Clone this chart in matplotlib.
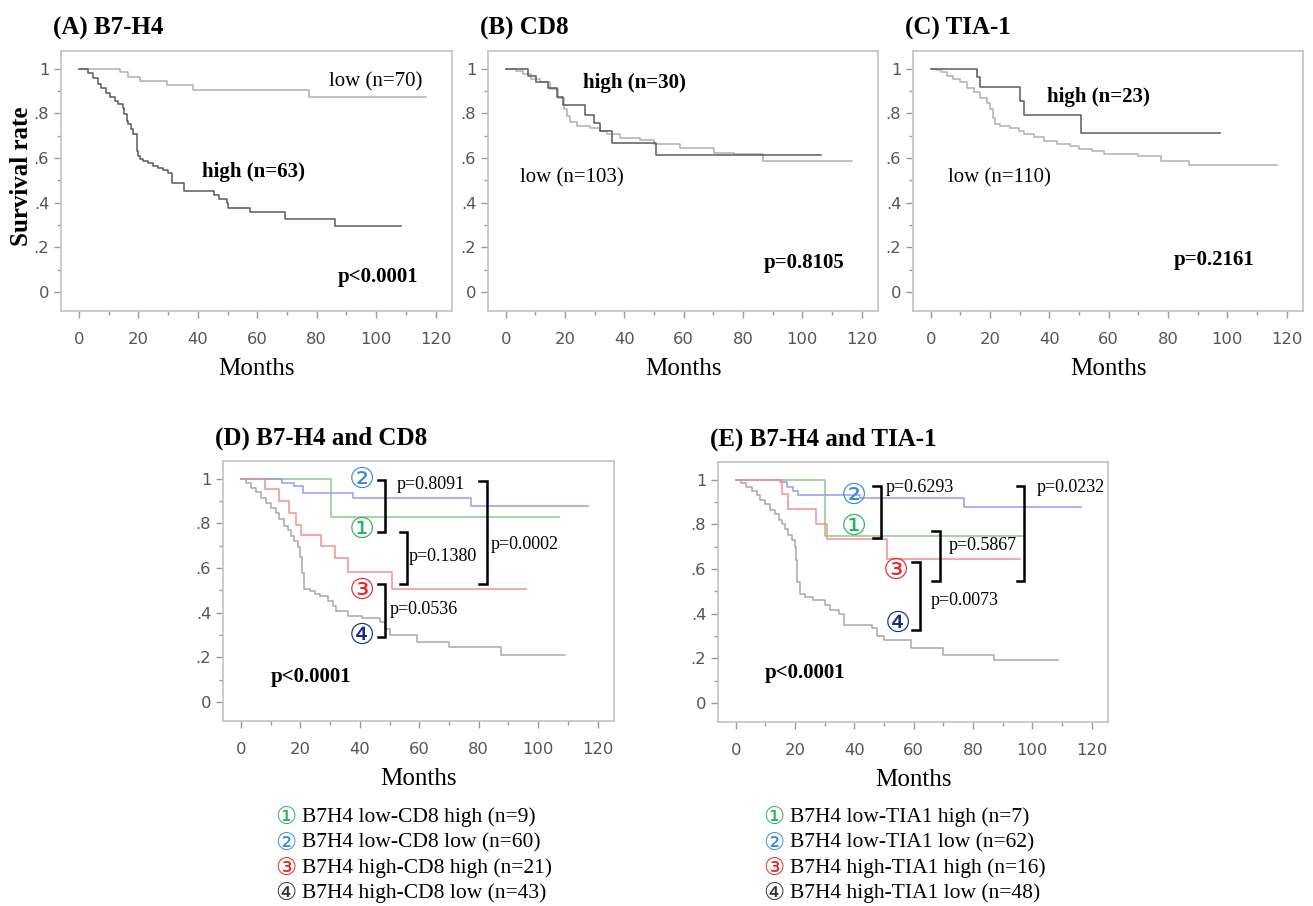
import matplotlib
matplotlib.use('Agg')
import matplotlib.pyplot as plt

SERIF = 'Liberation Serif'

# ---- survival curves (months, survival) ----
a_low_t = [0, 13.8, 16.6, 20.6, 29.6, 38.3, 77.3, 116.6]
a_low_s = [1.0, 0.985, 0.965, 0.945, 0.928, 0.905, 0.872, 0.872]
a_high_t = [0, 3.1, 4.8, 6.5, 7.6, 9.3, 10.4, 12.1, 13.3, 14.7, 15.2, 16.1, 16.6, 17.4,
            18.3, 19.4, 19.7, 20.0, 20.6, 21.7, 23.4, 25.1, 26.7, 28.4, 30.1, 31.2, 35.2,
            45.3, 47.0, 49.8, 50.3, 57.6, 69.4, 86.3, 108.2]
a_high_s = [1.0, 0.982, 0.96, 0.934, 0.913, 0.894, 0.875, 0.857, 0.842, 0.824, 0.797, 0.767,
            0.752, 0.73, 0.707, 0.692, 0.633, 0.61, 0.597, 0.585, 0.578, 0.563, 0.555, 0.548,
            0.533, 0.49, 0.452, 0.437, 0.418, 0.4, 0.376, 0.358, 0.328, 0.297, 0.297]

b_high_t = [0, 7.5, 10.3, 14.3, 17.1, 19.3, 26.7, 29.6, 31.8, 35.7, 50.5, 106.4]
b_high_s = [1.0, 0.967, 0.943, 0.913, 0.876, 0.84, 0.794, 0.757, 0.72, 0.667, 0.615, 0.615]
b_low_t = [0, 3.5, 5.8, 8.6, 11.4, 14.8, 17.6, 19.6, 20.5, 21.6, 23.9, 28.4, 31.8, 34.1,
           38.6, 45.4, 49.9, 58.9, 70.2, 77.0, 86.7, 116.6]
b_low_s = [1.0, 0.99, 0.975, 0.955, 0.94, 0.91, 0.87, 0.82, 0.79, 0.76, 0.745, 0.735, 0.72,
           0.71, 0.69, 0.68, 0.665, 0.645, 0.625, 0.62, 0.585, 0.585]

c_high_t = [0, 15.5, 16.6, 30.2, 31.3, 50.5, 97.4]
c_high_s = [1.0, 0.963, 0.918, 0.858, 0.794, 0.712, 0.712]
c_low_t = [0, 1.9, 3.6, 5.3, 7.6, 9.8, 12.1, 14.4, 16.6, 18.9, 20.0, 20.9, 21.7, 23.4, 26.8,
           29.6, 31.3, 34.7, 38.1, 42.6, 47.1, 49.9, 54.5, 58.4, 69.7, 77.6, 87.2, 116.6]
c_low_s = [1.0, 0.995, 0.985, 0.97, 0.955, 0.94, 0.915, 0.895, 0.87, 0.845, 0.82, 0.78, 0.755,
           0.745, 0.735, 0.72, 0.71, 0.695, 0.675, 0.665, 0.655, 0.64, 0.63, 0.62, 0.61, 0.585,
           0.57, 0.57]

d1_t = [0, 30.4, 107.0]
d1_s = [1.0, 0.829, 0.829]
d2_t = [0, 14.0, 18.0, 20.8, 37.8, 77.4, 116.7]
d2_s = [1.0, 0.983, 0.967, 0.936, 0.914, 0.88, 0.88]
d3_t = [0, 8.1, 12.9, 16.3, 18.6, 20.2, 27.0, 31.6, 36.1, 51.0, 96.0]
d3_s = [1.0, 0.954, 0.903, 0.847, 0.795, 0.75, 0.698, 0.646, 0.582, 0.508, 0.508]
d4_t = [0, 1.6, 3.3, 5.0, 6.7, 8.4, 10.1, 11.8, 12.9, 14.6, 15.7, 16.9, 18.0, 19.1, 19.9,
        20.6, 21.4, 23.1, 24.8, 26.5, 29.3, 31.0, 32.1, 36.1, 40.6, 46.8, 48.5, 50.2, 59.3,
        70.0, 87.6, 109.0]
d4_s = [1.0, 0.98, 0.96, 0.94, 0.915, 0.89, 0.87, 0.845, 0.82, 0.79, 0.77, 0.745, 0.72, 0.695,
        0.65, 0.58, 0.505, 0.497, 0.485, 0.475, 0.453, 0.43, 0.41, 0.386, 0.378, 0.357, 0.327,
        0.30, 0.267, 0.245, 0.212, 0.212]

e1_t = [0, 30.2, 96.8]
e1_s = [1.0, 0.749, 0.749]
e2_t = [0, 14.9, 17.2, 19.4, 21.1, 42.0, 77.1, 116.4]
e2_s = [1.0, 0.99, 0.967, 0.948, 0.933, 0.918, 0.878, 0.878]
e3_t = [0, 15.5, 17.7, 27.1, 30.7, 51.1, 95.7]
e3_s = [1.0, 0.935, 0.868, 0.8, 0.735, 0.644, 0.644]
e4_t = [0, 1.9, 3.6, 5.3, 7.0, 8.1, 9.8, 11.5, 13.2, 14.4, 15.5, 16.6, 17.7, 18.9, 20.0, 20.3,
        20.6, 21.7, 23.4, 26.2, 30.2, 31.9, 34.7, 36.4, 46.0, 47.7, 49.9, 59.0, 69.7, 87.2, 108.7]
e4_s = [1.0, 0.985, 0.97, 0.95, 0.93, 0.91, 0.89, 0.865, 0.845, 0.82, 0.8, 0.78, 0.755, 0.73,
        0.7, 0.64, 0.543, 0.49, 0.476, 0.461, 0.439, 0.417, 0.397, 0.35, 0.335, 0.302, 0.283,
        0.246, 0.216, 0.193, 0.193]

circ = ['\u2460', '\u2461', '\u2462', '\u2463']
grp_colors = ['#8cc88c', '#9a9af0', '#f49090', '#a8a8a8']
num_colors = ['#2fb060', '#3a8ad8', '#e82828', '#1c2e80']
leg_num_colors = ['#2fb060', '#3a8ad8', '#e82828', '#333333']
legend_d = ['B7H4 low-CD8 high (n=9)', 'B7H4 low-CD8 low (n=60)',
            'B7H4 high-CD8 high (n=21)', 'B7H4 high-CD8 low (n=43)']
legend_e = ['B7H4 low-TIA1 high (n=7)', 'B7H4 low-TIA1 low (n=62)',
            'B7H4 high-TIA1 high (n=16)', 'B7H4 high-TIA1 low (n=48)']

fig = plt.figure(figsize=(13.13, 9.06), dpi=100)


def setup(ax, title):
    ax.set_xlim(-6, 125.5)
    ax.set_ylim(-0.085, 1.08)
    ax.set_xticks(range(0, 121, 20))
    ax.set_xticks(range(10, 121, 20), minor=True)
    ax.set_yticks([0, 0.2, 0.4, 0.6, 0.8, 1.0])
    ax.set_yticklabels(['0', '.2', '.4', '.6', '.8', '1'])
    ax.set_yticks([0.1, 0.3, 0.5, 0.7, 0.9], minor=True)
    ax.tick_params(which='both', colors='#9a9a9a', labelcolor='#555555', labelsize=11.8, width=1)
    ax.tick_params(which='major', length=5)
    ax.tick_params(which='minor', length=3)
    ax.tick_params(axis='x', pad=10)
    for sp in ax.spines.values():
        sp.set_color('#c4c4c4')
        sp.set_linewidth(1.2)
    ax.set_xlabel('Months', family=SERIF, fontsize=18, labelpad=8)
    ax.set_title(title, family=SERIF, fontweight='bold', fontsize=18, loc='left',
                 x=-0.02, pad=12)


def bracket(ax, x, y0, y1, dx=2.5):
    ax.plot([x - dx, x, x, x - dx], [y1, y1, y0, y0], color='black', lw=1.8,
            solid_joinstyle='miter', clip_on=False)


W, H = 1313, 906
ax_a = fig.add_axes([61 / W, 1 - 311 / H, 391 / W, 260 / H])
ax_b = fig.add_axes([488 / W, 1 - 311 / H, 390 / W, 260 / H])
ax_c = fig.add_axes([913 / W, 1 - 311 / H, 390 / W, 260 / H])
ax_d = fig.add_axes([223 / W, 1 - 721 / H, 391 / W, 260 / H])
ax_e = fig.add_axes([718 / W, 1 - 722 / H, 390 / W, 260 / H])

# (A)
setup(ax_a, '(A) B7-H4')
ax_a.step(a_low_t, a_low_s, where='post', color='#b0b0b0', lw=1.1)
ax_a.step(a_high_t, a_high_s, where='post', color='#5a5a5a', lw=1.1)
ax_a.text(84, 0.94, 'low (n=70)', family=SERIF, fontsize=15, va='center')
ax_a.text(41.5, 0.54, 'high (n=63)', family=SERIF, fontsize=15, fontweight='bold', va='center')
ax_a.text(87, 0.067, 'p<0.0001', family=SERIF, fontsize=15, fontweight='bold', va='center')
fig.text(22 / W, 1 - 176 / H, 'Survival rate', family=SERIF, fontsize=18, fontweight='bold',
         rotation=90, ha='center', va='center')

# (B)
setup(ax_b, '(B) CD8')
ax_b.step(b_low_t, b_low_s, where='post', color='#b0b0b0', lw=1.1)
ax_b.step(b_high_t, b_high_s, where='post', color='#5a5a5a', lw=1.1)
ax_b.text(26, 0.937, 'high (n=30)', family=SERIF, fontsize=15, fontweight='bold', va='center')
ax_b.text(4.7, 0.51, 'low (n=103)', family=SERIF, fontsize=15, va='center')
ax_b.text(86.8, 0.13, 'p=0.8105', family=SERIF, fontsize=15, fontweight='bold', va='center')

# (C)
setup(ax_c, '(C) TIA-1')
ax_c.step(c_low_t, c_low_s, where='post', color='#b0b0b0', lw=1.1)
ax_c.step(c_high_t, c_high_s, where='post', color='#5a5a5a', lw=1.1)
ax_c.text(39.3, 0.875, 'high (n=23)', family=SERIF, fontsize=15, fontweight='bold', va='center')
ax_c.text(5.8, 0.51, 'low (n=110)', family=SERIF, fontsize=15, va='center')
ax_c.text(82, 0.143, 'p=0.2161', family=SERIF, fontsize=15, fontweight='bold', va='center')

# (D)
setup(ax_d, '(D) B7-H4 and CD8')
for t, s, c in zip([d1_t, d2_t, d3_t, d4_t], [d1_s, d2_s, d3_s, d4_s], grp_colors):
    ax_d.step(t, s, where='post', color=c, lw=1.1)
for i, (x, y) in enumerate([(40.7, 0.772), (40.7, 0.996), (40.7, 0.496), (40.7, 0.295)]):
    ax_d.text(x, y, circ[i], color=num_colors[i], fontsize=21, ha='center', va='center',
              family='DejaVu Sans')
bracket(ax_d, 48.5, 0.76, 0.996)
bracket(ax_d, 55.9, 0.527, 0.76)
bracket(ax_d, 82.7, 0.527, 0.991)
bracket(ax_d, 48.5, 0.29, 0.527)
ax_d.text(52.5, 0.975, 'p=0.8091', family=SERIF, fontsize=13, va='center')
ax_d.text(56.3, 0.652, 'p=0.1380', family=SERIF, fontsize=13, va='center')
ax_d.text(84.1, 0.705, 'p=0.0002', family=SERIF, fontsize=13, va='center')
ax_d.text(50.2, 0.415, 'p=0.0536', family=SERIF, fontsize=13, va='center')
ax_d.text(10.2, 0.11, 'p<0.0001', family=SERIF, fontsize=15, fontweight='bold', va='center')

# (E)
setup(ax_e, '(E) B7-H4 and TIA-1')
for t, s, c in zip([e1_t, e2_t, e3_t, e4_t], [e1_s, e2_s, e3_s, e4_s], grp_colors):
    ax_e.step(t, s, where='post', color=c, lw=1.1)
for i, (x, y) in enumerate([(39.7, 0.79), (39.7, 0.93), (53.9, 0.594), (54.6, 0.357)]):
    ax_e.text(x, y, circ[i], color=num_colors[i], fontsize=21, ha='center', va='center',
              family='DejaVu Sans')
bracket(ax_e, 48.8, 0.741, 0.973)
bracket(ax_e, 68.8, 0.545, 0.772)
bracket(ax_e, 97.3, 0.545, 0.973)
bracket(ax_e, 62.0, 0.326, 0.63)
ax_e.text(50.5, 0.964, 'p=0.6293', family=SERIF, fontsize=13, va='center')
ax_e.text(71.9, 0.705, 'p=0.5867', family=SERIF, fontsize=13, va='center')
ax_e.text(101.4, 0.964, 'p=0.0232', family=SERIF, fontsize=13, va='center')
ax_e.text(65.8, 0.46, 'p=0.0073', family=SERIF, fontsize=13, va='center')
ax_e.text(9.8, 0.134, 'p<0.0001', family=SERIF, fontsize=15, fontweight='bold', va='center')

# legends under D and E
rows_y = [817, 843, 868, 893]
for labels, x0 in [(legend_d, 286), (legend_e, 774)]:
    for i, lab in enumerate(labels):
        y = 1 - rows_y[i] / H
        fig.text(x0 / W, y, circ[i], color=leg_num_colors[i], fontsize=17, ha='center',
                 va='center', family='DejaVu Sans')
        fig.text((x0 + 16) / W, y, lab, family=SERIF, fontsize=15.5, va='center')

fig.savefig('out.png', dpi=100)
